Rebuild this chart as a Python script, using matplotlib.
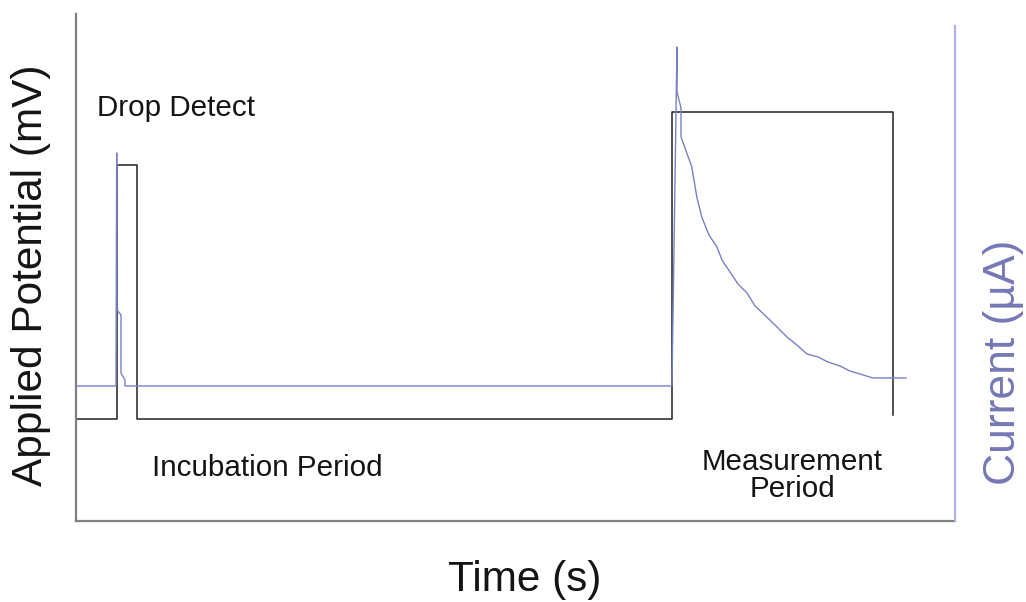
import matplotlib
matplotlib.use("Agg")
import matplotlib.pyplot as plt

plt.rcParams['font.family'] = ['Liberation Sans', 'DejaVu Sans']

# Applied potential waveform (time in s, potential in mV)
pot_t = [0.0, 4.63, 4.63, 6.94, 6.94, 67.86, 67.86, 92.95, 92.95]
pot_v = [20.1, 20.1, 70.2, 70.2, 20.1, 20.1, 80.7, 80.7, 20.9]

# Measured current response (time in s, current in uA)
cur_t = [0.0, 4.55, 4.63, 4.66, 5.12, 5.12, 5.57, 5.57, 67.80, 68.37, 68.37,
         68.83, 68.83, 70.05, 70.62, 71.18, 72.01, 72.92, 73.49, 75.31, 76.34,
         77.25, 79.18, 80.89, 82.14, 83.16, 84.41, 85.55, 86.92, 88.05, 90.67,
         94.43]
cur_i = [26.63, 26.63, 72.58, 41.62, 40.63, 29.19, 27.81, 26.63, 26.63, 93.49,
         84.62, 81.46, 75.74, 69.88, 63.96, 60.02, 56.41, 54.04, 51.48, 46.75,
         44.97, 42.41, 39.25, 36.29, 34.52, 32.94, 32.35, 31.36, 30.57, 29.59,
         28.21, 28.21]

cur_color = '#7880c4'
label_color = '#7478b4'
text_color = '#141414'

fig = plt.figure(figsize=(10.26, 6.02), dpi=100)
ax = fig.add_axes([76 / 1026, 1 - 521 / 602, (955 - 76) / 1026, (521 - 14) / 602])
ax.set_xlim(0, 100)
ax.set_ylim(0, 100)

ax2 = ax.twinx()
ax2.set_ylim(0, 100)

ax.plot(pot_t, pot_v, color='#202020', lw=1.1, zorder=2)
ax2.plot(cur_t, cur_i, color=cur_color, lw=1.0, zorder=3)

for a in (ax, ax2):
    a.set_xticks([])
    a.set_yticks([])
    for side in ('top', 'left', 'right', 'bottom'):
        a.spines[side].set_visible(False)
ax.spines['left'].set_visible(True)
ax.spines['left'].set_color('#808080')
ax.spines['left'].set_linewidth(1.6)
ax.spines['bottom'].set_visible(True)
ax.spines['bottom'].set_color('#808080')
ax.spines['bottom'].set_linewidth(1.6)
ax2.spines['right'].set_visible(True)
ax2.spines['right'].set_color('#b0b4dc')
ax2.spines['right'].set_linewidth(1.6)
ax2.spines['right'].set_bounds(0, (521 - 26) / 507 * 100)

ax.text(2.39, 81.4, 'Drop Detect', fontsize=21.3, color=text_color,
        ha='left', va='center')
ax.text(8.65, 10.4, 'Incubation Period', fontsize=21.3, color=text_color,
        ha='left', va='center')
ax.text(81.46, 8.9, 'Measurement\nPeriod', fontsize=21.3, color=text_color,
        ha='center', va='center', linespacing=0.95)

fig.text(525 / 1026, 1 - 580 / 602, 'Time (s)', fontsize=30.4, color=text_color,
         ha='center', va='center')
fig.text(31 / 1026, 1 - 275 / 602, 'Applied Potential (mV)', fontsize=30.5,
         color=text_color, ha='center', va='center', rotation=90)
fig.text(1003 / 1026, 1 - 362 / 602, 'Current (µA)', fontsize=32,
         color=label_color, ha='center', va='center', rotation=90)

fig.savefig('out.png', dpi=100)
